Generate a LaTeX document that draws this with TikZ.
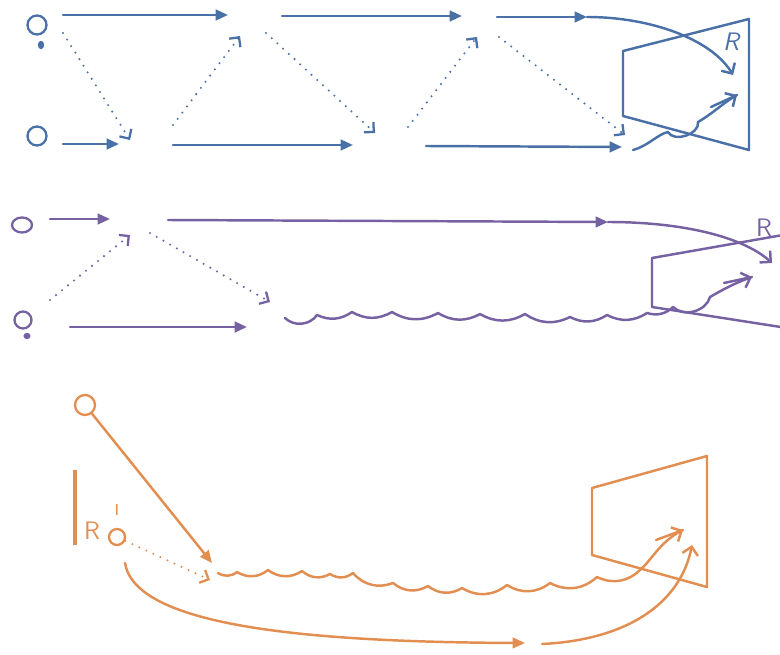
\documentclass[tikz,border=0pt]{standalone}
\usepackage{tikz}
\usetikzlibrary{arrows.meta, positioning, shapes.geometric}

\definecolor{inkblue}{RGB}{74,112,168}
\definecolor{inkpurple}{RGB}{118,98,162}
\definecolor{inkorange}{RGB}{226,142,80}

\tikzset{
  ray/.style={line width=1.4pt, line cap=round, -{Triangle[length=7pt,width=6pt]}},
  hit/.style={line width=1.4pt, line cap=round, -{Straight Barb[length=4.5pt,width=9pt]}},
  probe/.style={line width=1.3pt, line cap=round, dash pattern=on 0pt off 4.4pt, -{Straight Barb[length=4pt,width=8pt]}},
  stroke/.style={line width=1.4pt, line cap=round, line join=round},
  atom/.style={circle, draw, line width=1.3pt, inner sep=0pt, minimum size=#1},
  atom/.default=0.38cm,
  tag/.style={font=\sffamily\Large, inner sep=0pt},
}

\begin{document}
\begin{tikzpicture}[x=0.02cm, y=-0.02cm]
\useasboundingbox (0,0) rectangle (780,655);
\clip (0,0) rectangle (780,655);

% upper panel
\begin{scope}[inkblue]
  \node[atom] (b1) at (37,25) {};
  \fill (41,45) ellipse (1.8pt and 2.4pt);
  \node[atom] (b2) at (37,136) {};
  \coordinate (a1) at (63,15);  \coordinate (a2) at (228,15);
  \coordinate (a3) at (282,16); \coordinate (a4) at (462,16);
  \coordinate (a5) at (497,17); \coordinate (a6) at (587,17);
  \coordinate (aR) at (733,75);
  \coordinate (c1) at (63,144);  \coordinate (c2) at (119,144);
  \coordinate (c3) at (173,145); \coordinate (c4) at (353,145);
  \coordinate (c5) at (426,146); \coordinate (c6) at (622,147);
  \coordinate (c7) at (633,150); \coordinate (c8) at (668,132);
  \coordinate (c9) at (698,122); \coordinate (cR) at (737,95);
  \coordinate (c10) at (711,107);
  \draw[ray] (a1) -- (a2);
  \draw[ray] (a3) -- (a4);
  \draw[ray] (a5) -- (a6);
  \draw[hit] (a6) .. controls (652,17) and (712,40) .. (aR);
  \draw[ray] (c1) -- (c2);
  \draw[ray] (c3) -- (c4);
  \draw[ray] (c5) -- (c6);
  \draw[stroke] (c7) .. controls (648,146) and (658,134) .. (c8) to[bend right=80] (c9);
  \draw[hit] (c9) .. controls (712,114) and (722,104) .. (cR);
  \draw[stroke] (c10) -- (cR);
  % dotted exchanges
  \coordinate (d1) at (63,33);   \coordinate (d2) at (130,140);
  \coordinate (d3) at (173,125); \coordinate (d4) at (240,36);
  \coordinate (d5) at (266,33);  \coordinate (d6) at (375,133);
  \coordinate (d7) at (408,127); \coordinate (d8) at (477,37);
  \coordinate (d9) at (499,37);  \coordinate (d10) at (625,135);
  \foreach \s/\e in {d1/d2, d3/d4, d5/d6, d7/d8, d9/d10}
    \draw[probe] (\s) -- (\e);
  \draw[stroke] (623,51) -- (749,19) -- (749,150) -- (623,116) -- cycle;
  \node[tag, font=\sffamily\itshape\Large] (bR) at (731,42) {R};
\end{scope}

% middle panel
\begin{scope}[inkpurple]
  \node[atom=0.34cm, ellipse, minimum width=0.4cm, minimum height=0.3cm] (p1) at (22,225) {};
  \node[atom=0.34cm] (p2) at (23,320) {};
  \fill (27,336) ellipse (2pt and 1.8pt);
  \coordinate (e1) at (50,219);  \coordinate (e2) at (110,219);
  \coordinate (e3) at (168,220); \coordinate (e4) at (608,222);
  \coordinate (eR) at (772,263);
  \coordinate (f1) at (70,327);  \coordinate (f2) at (247,327);
  \coordinate (w0) at (285,318); \coordinate (w1) at (673,307);
  \coordinate (w2) at (710,297); \coordinate (wR) at (752,277);
  \coordinate (w3) at (724,283);
  \draw[ray] (e1) -- (e2);
  \draw[ray] (e3) -- (e4);
  \draw[hit] (e4) .. controls (680,222) and (742,236) .. (eR);
  \draw[ray] (f1) -- (f2);
  \coordinate (g1) at (50,300);  \coordinate (g2) at (130,235);
  \coordinate (g3) at (150,233); \coordinate (g4) at (270,302);
  \draw[probe] (g1) -- (g2);
  \draw[probe] (g3) -- (g4);
  % rippled track
  \draw[stroke] (w0) to[bend right=50] (317,315)
    foreach \x/\y in {352/312, 392/312, 438/313, 480/314,
      525/314, 570/317, 607/315, 647/313} { to[bend right=30] (\x,\y) }
    to[bend right=30] (w1) to[bend right=60] (w2);
  \draw[hit] (w2) .. controls (722,290) and (735,283) .. (wR);
  \draw[stroke] (w3) -- (wR);
  \draw[stroke] (800,232) -- (652,258) -- (652,307) -- (800,330);
  \node[tag] (pR) at (764,228) {R};
\end{scope}

% lower panel
\begin{scope}[inkorange]
  \node[atom=0.4cm] (o1) at (85,405) {};
  \node[atom=0.32cm] (o2) at (117,537) {};
  \draw[line width=2.4pt] (75,470) -- (75,545);
  \node[tag] (oR) at (92,531) {R};
  \node[tag, font=\sffamily\small] (oI) at (117,510) {I};
  \coordinate (k1) at (212,563); \coordinate (k2) at (210,580);
  \coordinate (k3) at (125,563); \coordinate (k4) at (525,643);
  \coordinate (k5) at (542,644); \coordinate (k6) at (692,545);
  \coordinate (v0) at (218,573); \coordinate (v1) at (640,570);
  \coordinate (vR) at (683,530); \coordinate (v2) at (656,540);
  \draw[ray] (o1) -- (k1);
  \draw[probe] (o2) -- (k2);
  \draw[ray] (k3) .. controls (135,625) and (300,642) .. (k4);
  \draw[hit] (k5) .. controls (625,640) and (680,605) .. (k6);
  % rippled track
  \draw[stroke] (v0) foreach \x/\y in {237/572, 268/570, 302/571, 330/574, 353/573,
      393/583, 428/586, 462/588, 507/585, 550/583, 597/577} { to[bend right=35] (\x,\y) }
    to[bend right=35] (v1);
  \draw[hit] (v1) .. controls (650,562) and (660,542) .. (vR);
  \draw[stroke] (v2) -- (vR);
  \draw[stroke] (592,488) -- (707,456) -- (707,587) -- (592,555) -- cycle;
\end{scope}
\end{tikzpicture}
\end{document}
